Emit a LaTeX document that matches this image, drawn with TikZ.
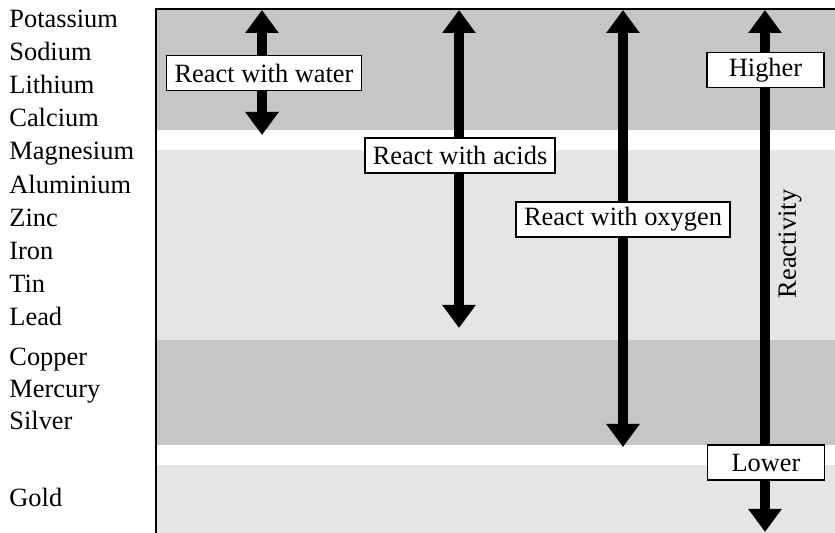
\documentclass[tikz,border=0pt]{standalone}
\usepackage{fontspec}
\setmainfont{Liberation Serif}
\usepackage{tikz}
\usetikzlibrary{arrows.meta}
\definecolor{darkband}{HTML}{C6C6C6}
\definecolor{lightband}{HTML}{E5E5E5}
\tikzstyle{metal}=[anchor=base west, inner sep=0pt, font=\fontsize{13.2}{15}\selectfont]
\tikzstyle{test}=[draw, fill=white, line width=0.9pt, minimum height=17.5pt, inner xsep=4pt, inner ysep=0pt, font=\fontsize{13.2}{15}\selectfont]
\tikzstyle{ends}=[test, minimum width=58.5pt]
\tikzset{reach/.style={line width=5pt, >={Triangle[length=11.5pt,width=16pt]}, <->}}

\begin{document}
\begin{tikzpicture}[x=0.5pt, y=-0.5pt]
    \useasboundingbox (0,0) rectangle (835,533);
    % bands of the series
    \fill[darkband]  (156,9)   rectangle (835,130);
    \fill[lightband] (156,150) rectangle (835,340);
    \fill[darkband]  (156,340) rectangle (835,445);
    \fill[lightband] (156,465) rectangle (835,533);
    \draw[line width=1pt] (156,533) -- (156,9) -- (835,9);
    % the metals
    \foreach \y/\name in {28/Potassium, 61/Sodium, 94/Lithium, 127/Calcium,
                          160/Magnesium, 194/Aluminium, 227/Zinc, 260/Iron,
                          293/Tin, 326/Lead, 366/Copper, 398/Mercury,
                          430/Silver, 507/Gold}
        \node[metal] (\name) at (9,\y) {\name};
    % ends of the arrows
    \coordinate (wtop) at (262,10);
    \coordinate (wbot) at (262,135);
    \coordinate (atop) at (459,10);
    \coordinate (abot) at (459,328);
    \coordinate (otop) at (623,10);
    \coordinate (obot) at (623,447);
    \coordinate (rtop) at (765,10);
    \coordinate (rbot) at (765,532);
    \draw[reach] (wtop) -- (wbot);
    \draw[reach] (atop) -- (abot);
    \draw[reach] (otop) -- (obot);
    \draw[reach] (rtop) -- (rbot);
    % labels on the arrows
    \node[test] (water)  at (264,73)    {React with water};
    \node[test] (acids)  at (460,155.5) {React with acids};
    \node[test] (oxygen) at (623,219.5) {React with oxygen};
    \node[ends] (higher) at (765.5,70)  {Higher};
    \node[ends] (lower)  at (766,462.5) {Lower};
    \node[rotate=90, font=\fontsize{13.2}{15}\selectfont] (reactivity) at (790,244) {Reactivity};
\end{tikzpicture}
\end{document}
